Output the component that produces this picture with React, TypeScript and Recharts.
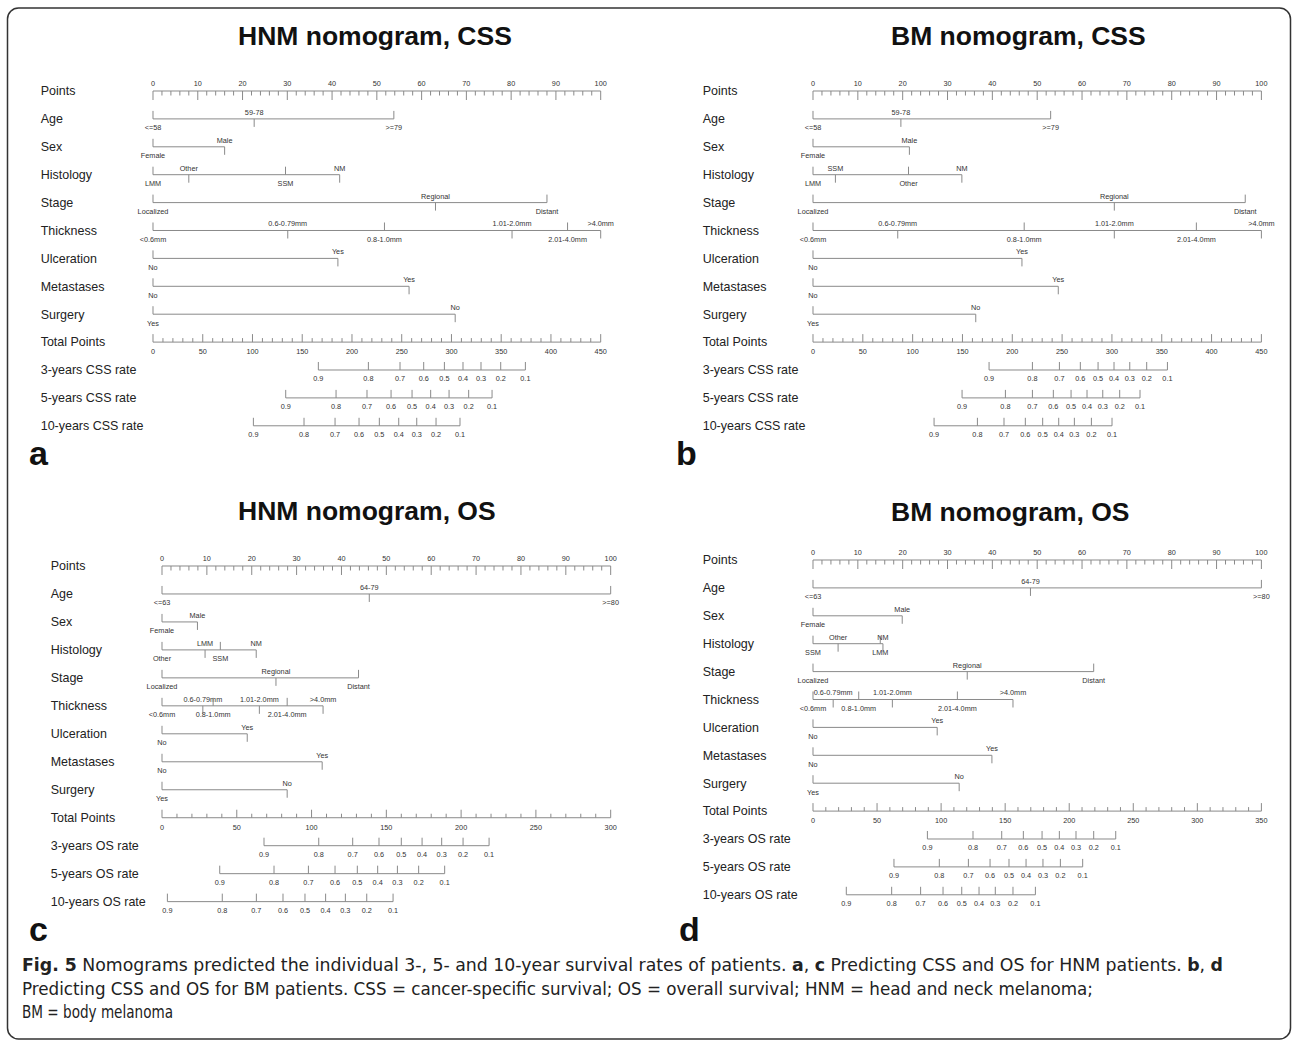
import React from "react";
import { ComposedChart, XAxis, YAxis, Scatter, ReferenceLine } from "recharts";

const LINE = "#8a8a8a";
const TEXT = "#333";
const FONT = "'Liberation Sans', Arial, sans-serif";

// row titles
const rowNames = ["Points", "Age", "Sex", "Histology", "Stage", "Thickness", "Ulceration", "Metastases", "Surgery", "Total Points"];
const cssRates = ["3-years CSS rate", "5-years CSS rate", "10-years CSS rate"];
const osRates = ["3-years OS rate", "5-years OS rate", "10-years OS rate"];

// axis tick labels
const pointsMajor = [0, 10, 20, 30, 40, 50, 60, 70, 80, 90, 100];
const total450 = [0, 50, 100, 150, 200, 250, 300, 350, 400, 450];
const total300 = [0, 50, 100, 150, 200, 250, 300];
const total350 = [0, 50, 100, 150, 200, 250, 300, 350];
const rateTicks = [0.9, 0.8, 0.7, 0.6, 0.5, 0.4, 0.3, 0.2, 0.1];

// factor levels, in order of points
const ageCss = ["<=58", "59-78", ">=79"];
const ageOs = ["<=63", "64-79", ">=80"];
const sexLevels = ["Female", "Male"];
const histA = ["LMM", "Other", "SSM", "NM"];
const histB = ["LMM", "SSM", "Other", "NM"];
const histC = ["Other", "LMM", "SSM", "NM"];
const histD = ["SSM", "Other", "LMM", "NM"];
const stageLevels = ["Localized", "Regional", "Distant"];
const thickLevels = ["<0.6mm", "0.6-0.79mm", "0.8-1.0mm", "1.01-2.0mm", "2.01-4.0mm", ">4.0mm"];
const noYes = ["No", "Yes"];
const yesNo = ["Yes", "No"];

// points for each level (Age, Sex, Histology, Stage, Thickness, Ulceration, Metastases, Surgery)
const hnmCssPoints = [[0, 22.6, 53.8], [0, 16.0], [0, 8.0, 29.6, 41.7], [0, 63.1, 88.0], [0, 30.1, 51.7, 80.2, 92.6, 100], [0, 41.3], [0, 57.2], [0, 67.5]];
const bmCssPoints = [[0, 19.6, 53.0], [0, 21.5], [0, 5.0, 21.3, 33.2], [0, 67.2, 96.4], [0, 18.9, 47.1, 67.2, 85.5, 100], [0, 46.6], [0, 54.7], [0, 36.3]];
const hnmOsPoints = [[0, 46.2, 100], [0, 7.9], [0, 9.6, 13.0, 21.0], [0, 25.4, 43.8], [0, 9.1, 11.4, 21.7, 27.9, 35.9], [0, 19.0], [0, 35.7], [0, 27.9]];
const bmOsPoints = [[0, 48.5, 100], [0, 19.9], [0, 5.6, 15.0, 15.6], [0, 34.4, 62.6], [0, 4.5, 10.2, 17.7, 32.2, 44.6], [0, 27.7], [0, 39.9], [0, 32.6]];

// total points at survival 0.9 ... 0.1
const hnmCss3 = [166.2, 216.5, 248.3, 272.1, 292.9, 311.6, 329.7, 349.5, 374.3];
const hnmCss5 = [133.4, 184.0, 215.1, 239.3, 260.4, 279.1, 297.6, 317.3, 340.8];
const hnmCss10 = [100.9, 151.8, 183.0, 207.1, 227.5, 247.0, 265.1, 284.5, 308.6];
const bmCss3 = [176.7, 220.2, 247.3, 268.3, 286.1, 302.1, 317.9, 334.9, 355.7];
const bmCss5 = [149.6, 193.1, 220.2, 241.2, 259.0, 275.0, 290.8, 307.8, 328.2];
const bmCss10 = [121.5, 165.0, 191.7, 213.1, 230.5, 246.6, 262.3, 279.4, 300.1];
const hnmOs3 = [68.2, 104.8, 127.5, 145.1, 160.0, 173.9, 187.0, 201.3, 218.7];
const hnmOs5 = [38.6, 74.9, 97.9, 115.7, 130.6, 144.2, 157.4, 171.6, 189.0];
const hnmOs10 = [3.6, 40.3, 63.1, 80.9, 95.6, 109.4, 122.6, 136.9, 154.5];
const bmOs3 = [89.3, 124.9, 147.3, 164.2, 178.8, 192.3, 205.3, 219.1, 236.3];
const bmOs5 = [63.2, 98.6, 121.3, 138.2, 153.0, 166.3, 179.5, 193.1, 210.5];
const bmOs10 = [26.0, 61.4, 84.0, 101.5, 116.1, 129.6, 142.3, 156.1, 173.6];

type Panel = {
  rates: string[];
  levels: string[][];
  points: number[][];
  totalMajor: number[];
  surv: number[][];
  x0: number; x1: number; y0: number; gap: number; labelX: number;
};

const panels: Panel[] = [
  {
    rates: cssRates,
    levels: [ageCss, sexLevels, histA, stageLevels, thickLevels, noYes, noYes, yesNo],
    points: hnmCssPoints, totalMajor: total450, surv: [hnmCss3, hnmCss5, hnmCss10],
    x0: 153.3, x1: 601, y0: 91, gap: 27.9, labelX: 41,
  },
  {
    rates: cssRates,
    levels: [ageCss, sexLevels, histB, stageLevels, thickLevels, noYes, noYes, yesNo],
    points: bmCssPoints, totalMajor: total450, surv: [bmCss3, bmCss5, bmCss10],
    x0: 813.3, x1: 1261.7, y0: 91, gap: 27.9, labelX: 703,
  },
  {
    rates: osRates,
    levels: [ageOs, sexLevels, histC, stageLevels, thickLevels, noYes, noYes, yesNo],
    points: hnmOsPoints, totalMajor: total300, surv: [hnmOs3, hnmOs5, hnmOs10],
    x0: 162.3, x1: 611, y0: 566, gap: 27.97, labelX: 51,
  },
  {
    rates: osRates,
    levels: [ageOs, sexLevels, histD, stageLevels, thickLevels, noYes, noYes, yesNo],
    points: bmOsPoints, totalMajor: total350, surv: [bmOs3, bmOs5, bmOs10],
    x0: 813.3, x1: 1261.7, y0: 560, gap: 27.9, labelX: 703,
  },
];

// major ticks plus n-1 minor ticks between them
function withMinor(majors: number[], n: number) {
  const out: { x: number; major: boolean }[] = [];
  majors.forEach((m, i) => {
    out.push({ x: m, major: true });
    if (i < majors.length - 1) {
      const step = (majors[i + 1] - m) / n;
      for (let k = 1; k < n; k++) out.push({ x: m + step * k, major: false });
    }
  });
  return out;
}

const txt = { fontFamily: FONT, fontSize: 7.3, fill: TEXT };

const PointsShape = (s: any) => {
  const { cx, cy, payload } = s;
  return (
    <g>
      <line x1={cx} x2={cx} y1={cy} y2={cy + (payload.major ? 9 : 4.5)} stroke={LINE} />
      {payload.major && (
        <text x={cx} y={cy - 5} textAnchor="middle" {...txt}>{payload.x}</text>
      )}
    </g>
  );
};

const TotalShape = (s: any) => {
  const { cx, cy, payload } = s;
  return (
    <g>
      <line x1={cx} x2={cx} y1={cy} y2={cy - (payload.major ? 8 : 4)} stroke={LINE} />
      {payload.major && (
        <text x={cx} y={cy + 12} textAnchor="middle" {...txt}>{payload.x}</text>
      )}
    </g>
  );
};

const LevelShape = (s: any) => {
  const { cx, cy, payload } = s;
  const above = payload.above;
  return (
    <g>
      <line x1={cx} x2={cx} y1={cy} y2={above ? cy + 8 : cy - 8} stroke={LINE} />
      <text x={cx} y={above ? cy - 4 : cy + 11.5} textAnchor="middle" {...txt}>{payload.label}</text>
    </g>
  );
};

const RateShape = (s: any) => {
  const { cx, cy, payload } = s;
  return (
    <g>
      <line x1={cx} x2={cx} y1={cy} y2={cy - 8} stroke={LINE} />
      <text x={cx} y={cy + 11.5} textAnchor="middle" {...txt}>{payload.label.toFixed(1)}</text>
    </g>
  );
};

function Nomogram({ p }: { p: Panel }) {
  const names = [...rowNames, ...p.rates];
  const rowIdx = names.map((_, i) => i);
  const last = names.length - 1;
  const yAxisW = 140;
  const mTop = 40, mBottom = 30, mRight = 30;
  const width = yAxisW + (p.x1 - p.x0) + mRight;
  const height = mTop + last * p.gap + mBottom;
  const left = p.x0 - yAxisW;
  const top = p.y0 - mTop;
  const totalMax = p.totalMajor[p.totalMajor.length - 1];
  const lx = p.labelX - left;

  const ptsData = withMinor(pointsMajor, 5).map((t) => ({ ...t, y: 0 }));
  const totData = withMinor(p.totalMajor, 5).map((t) => ({ ...t, y: 9 }));
  const levelData = p.levels.flatMap((labs, r) =>
    labs.map((lab, i) => ({ x: p.points[r][i], y: r + 1, label: lab, above: i % 2 === 1 }))
  );
  const rateData = p.surv.flatMap((vals, r) =>
    vals.map((v, i) => ({ x: v, y: 10 + r, label: rateTicks[i] }))
  );

  return (
    <div style={{ position: "absolute", left, top }}>
      <ComposedChart width={width} height={height} margin={{ top: mTop, right: mRight, bottom: mBottom, left: 0 }}>
        <XAxis xAxisId="pts" type="number" dataKey="x" domain={[0, 100]} hide />
        <XAxis xAxisId="tot" type="number" dataKey="x" domain={[0, totalMax]} hide />
        <YAxis
          yAxisId="row"
          type="number"
          dataKey="y"
          domain={[0, last]}
          reversed
          ticks={rowIdx}
          interval={0}
          width={yAxisW}
          axisLine={false}
          tickLine={false}
          tick={(t: any) => (
            <text x={lx} y={t.y} dy="0.35em" fontFamily={FONT} fontSize={12.5} fill="#222">
              {names[t.payload.value]}
            </text>
          )}
        />
        <ReferenceLine xAxisId="pts" yAxisId="row" segment={[{ x: 0, y: 0 }, { x: 100, y: 0 }]} stroke={LINE} />
        {p.points.map((pts, r) => (
          <ReferenceLine
            key={"lv" + r}
            xAxisId="pts"
            yAxisId="row"
            segment={[{ x: 0, y: r + 1 }, { x: Math.max(...pts), y: r + 1 }]}
            stroke={LINE}
          />
        ))}
        <ReferenceLine xAxisId="tot" yAxisId="row" segment={[{ x: 0, y: 9 }, { x: totalMax, y: 9 }]} stroke={LINE} />
        {p.surv.map((vals, r) => (
          <ReferenceLine
            key={"sv" + r}
            xAxisId="tot"
            yAxisId="row"
            segment={[{ x: Math.min(...vals), y: 10 + r }, { x: Math.max(...vals), y: 10 + r }]}
            stroke={LINE}
          />
        ))}
        <Scatter xAxisId="pts" yAxisId="row" data={ptsData} shape={PointsShape} isAnimationActive={false} />
        <Scatter xAxisId="pts" yAxisId="row" data={levelData} shape={LevelShape} isAnimationActive={false} />
        <Scatter xAxisId="tot" yAxisId="row" data={totData} shape={TotalShape} isAnimationActive={false} />
        <Scatter xAxisId="tot" yAxisId="row" data={rateData} shape={RateShape} isAnimationActive={false} />
      </ComposedChart>
    </div>
  );
}

const titleStyle = { fontFamily: FONT, fontWeight: 700, fontSize: 26.5, fill: "#111" };
const letterStyle = { fontFamily: FONT, fontWeight: 700, fontSize: 34, fill: "#111" };
const capFont = "'Liberation Sans Narrow', 'DejaVu Sans Condensed', 'Open Sans', sans-serif";

export default function App() {
  return (
    <div style={{ position: "relative", width: 1292, height: 1042, background: "#fff", overflow: "hidden" }}>
      <style>{"body{margin:0}"}</style>
      <svg width={1292} height={1042} style={{ position: "absolute", left: 0, top: 0 }}>
        <rect x={7.5} y={8} width={1283} height={1031} rx={11} fill="none" stroke="#333" strokeWidth={1.5} />
        <text x={238} y={45} {...titleStyle}>HNM nomogram, CSS</text>
        <text x={891} y={45} {...titleStyle}>BM nomogram, CSS</text>
        <text x={238} y={520} {...titleStyle}>HNM nomogram, OS</text>
        <text x={891} y={521} {...titleStyle}>BM nomogram, OS</text>
        <text x={29} y={465} {...letterStyle}>a</text>
        <text x={676} y={465} {...letterStyle}>b</text>
        <text x={29} y={941} {...letterStyle}>c</text>
        <text x={679} y={941} {...letterStyle}>d</text>
        <g fontFamily={capFont} fontSize={17} fill="#222">
          <text x={22} y={971} textLength={1201} lengthAdjust="spacingAndGlyphs">
            <tspan fontWeight={700}>Fig. 5</tspan> Nomograms predicted the individual 3-, 5- and 10-year survival rates of patients.{" "}
            <tspan fontWeight={700}>a</tspan>, <tspan fontWeight={700}>c</tspan> Predicting CSS and OS for HNM patients.{" "}
            <tspan fontWeight={700}>b</tspan>, <tspan fontWeight={700}>d</tspan>
          </text>
          <text x={22} y={995} textLength={1071} lengthAdjust="spacingAndGlyphs">
            Predicting CSS and OS for BM patients. CSS = cancer-specific survival; OS = overall survival; HNM = head and neck melanoma;
          </text>
          <text x={22} y={1018} textLength={151} lengthAdjust="spacingAndGlyphs">BM = body melanoma</text>
        </g>
      </svg>
      {panels.map((p, i) => (
        <Nomogram key={i} p={p} />
      ))}
    </div>
  );
}
